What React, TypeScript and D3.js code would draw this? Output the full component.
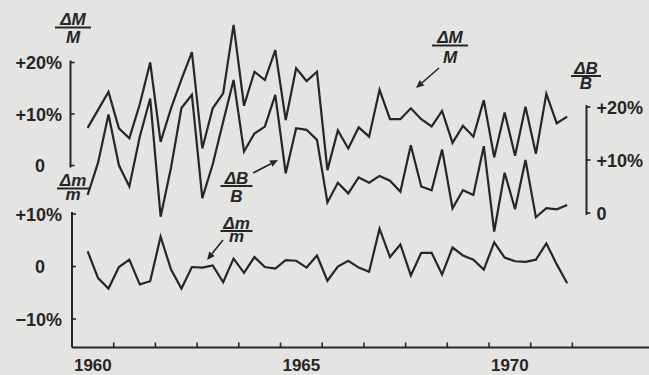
import React, { useEffect, useRef } from 'react';
import * as d3 from 'd3';

// quarterly changes in percent, first point is 1960 Q2
const firstYear = 1960
const firstQuarter = 1

// ΔM/M
const moneyChange = [7.3, 10.8, 14.3, 7.2, 5.3, 11.9, 20.0, 4.6, 11.1, 16.7, 22.0, 3.3,
  11.1, 14.0, 27.3, 11.6, 18.2, 16.6, 22.4, 8.8, 18.9, 16.4, 18.2, -0.9,
  6.8, 3.3, 7.4, 5.6, 14.7, 9.0, 9.0, 11.1, 9.0, 7.6, 10.6, 4.4,
  7.7, 5.6, 12.7, 1.6, 10.3, 1.9, 11.4, 2.3, 13.9, 8.2, 9.5]

// ΔB/B
const baseChange = [3.4, 9.5, 18.6, 9.0, 5.0, 14.4, 21.6, -0.7, 8.6, 19.8, 22.3, 2.8,
  9.2, 17.2, 25.1, 11.6, 15.0, 16.3, 22.3, 7.5, 16.0, 15.7, 13.8, 2.0,
  5.7, 3.7, 6.7, 5.7, 7.0, 6.1, 4.0, 12.8, 5.0, 4.3, 12.0, 0.9,
  4.3, 3.4, 12.6, -3.5, 7.6, 0.7, 10.0, -0.8, 0.9, 0.7, 1.5]

// Δm/m
const multChange = [2.9, -2.2, -4.2, -0.1, 1.3, -3.4, -2.8, 5.7, -0.6, -4.2, -0.1, -0.2,
  0.2, -3.0, 1.5, -1.2, 1.8, -0.1, -0.4, 1.2, 1.1, -0.2, 2.1, -2.7,
  0.0, 1.1, -0.2, -1.0, 7.2, 1.8, 4.2, -1.7, 2.6, 2.6, -1.5, 3.6,
  2.1, 1.3, -0.6, 4.6, 1.7, 1.0, 0.9, 1.3, 4.4, 0.4, -3.2]

const tickYears = [1961, 1962, 1963, 1964, 1965, 1966, 1967, 1968, 1969, 1970, 1971, 1972]
const yearLabels = [1960, 1965, 1970]
const upperTicks = [0, 10, 20]
const upperTickLabels = ['0', '+10%', '+20%']
const lowerTicks = [-10, 0, 10]
const lowerTickLabels = ['\u221210%', '0', '+10%']

const ink = '#262626'
const paper = '#e4e4e2'
const font = "'Liberation Sans', Arial, sans-serif"

const App = () => {
  const chart = useRef<SVGSVGElement>(null)

  useEffect(() => {
    const svg = d3.select(chart.current)
    svg.selectAll('*').remove()

    const x = d3.scaleLinear().domain([1960, 1974]).range([72, 72 + 41.7 * 14])
    const yM = d3.scaleLinear().domain([0, 20]).range([165.5, 62.5])
    const yB = d3.scaleLinear().domain([0, 20]).range([213, 107])
    const ym = d3.scaleLinear().domain([-10, 10]).range([319, 214])
    const when = (i: number) => firstYear + (firstQuarter + i + 0.5) / 4

    svg.append('rect').attr('width', 649).attr('height', 375).attr('fill', paper)

    // series
    const series: [number[], d3.ScaleLinear<number, number>][] = [
      [moneyChange, yM], [baseChange, yB], [multChange, ym]
    ]
    series.forEach(([values, y]) => {
      const line = d3.line<number>().x((d, i) => x(when(i))).y(d => y(d))
      svg.append('path')
        .datum(values)
        .attr('d', line)
        .attr('fill', 'none')
        .attr('stroke', ink)
        .attr('stroke-width', 2.2)
        .attr('stroke-linejoin', 'miter')
    })

    // x axis
    const base = 347.5
    svg.append('line').attr('x1', x(1960)).attr('x2', 649).attr('y1', base).attr('y2', base)
      .attr('stroke', ink).attr('stroke-width', 2)
    svg.append('g').selectAll('line').data(tickYears).join('line')
      .attr('x1', d => x(d)).attr('x2', d => x(d))
      .attr('y1', base).attr('y2', base - 5)
      .attr('stroke', ink).attr('stroke-width', 1.6)
    svg.append('g').selectAll('text').data(yearLabels).join('text')
      .attr('x', d => x(d + 0.5)).attr('y', 370.5)
      .attr('text-anchor', 'middle')
      .attr('font-family', font).attr('font-weight', 'bold').attr('font-size', 17)
      .attr('fill', ink)
      .text(d => d)

    // vertical axes, ticks point right
    const vAxis = (ax: number, y: d3.ScaleLinear<number, number>, ticks: number[], labels: string[], side: 'left' | 'right') => {
      const [lo, hi] = d3.extent(ticks) as [number, number]
      const y2 = side === 'left' && y === ym ? base : y(lo) + 2
      svg.append('line').attr('x1', ax).attr('x2', ax).attr('y1', y(hi) - 2).attr('y2', y2)
        .attr('stroke', ink).attr('stroke-width', 2)
      svg.append('g').selectAll('line').data(ticks).join('line')
        .attr('x1', ax).attr('x2', ax + 4)
        .attr('y1', d => y(d)).attr('y2', d => y(d))
        .attr('stroke', ink).attr('stroke-width', 1.6)
      svg.append('g').selectAll('text').data(ticks).join('text')
        .attr('x', (d, i) => side === 'right' ? ax + 10 : (labels[i] === '0' ? 45 : 62))
        .attr('y', d => y(d) + 6.5)
        .attr('text-anchor', side === 'right' ? 'start' : 'end')
        .attr('font-family', font).attr('font-weight', 'bold').attr('font-size', 18)
        .attr('fill', ink)
        .text((d, i) => labels[i])
    }
    vAxis(70.5, yM, upperTicks, upperTickLabels, 'left')
    vAxis(72, ym, lowerTicks, lowerTickLabels, 'left')
    vAxis(586.5, yB, upperTicks, upperTickLabels, 'right')

    // fraction labels
    const fraction = (cx: number, top: number, num: string, den: string, bar: number, denBase: number) => {
      const g = svg.append('g')
        .attr('font-family', font).attr('font-weight', 'bold').attr('font-style', 'italic')
        .attr('font-size', 17).attr('fill', ink).attr('text-anchor', 'middle')
      g.append('text').attr('x', cx).attr('y', top).text(num)
      g.append('line').attr('x1', cx - bar / 2).attr('x2', cx + bar / 2)
        .attr('y1', top + 2.5).attr('y2', top + 2.5)
        .attr('stroke', ink).attr('stroke-width', 2)
      g.append('text').attr('x', cx).attr('y', denBase).text(den)
    }
    fraction(73, 25, '\u0394M', 'M', 36, 43)
    fraction(73, 186, '\u0394m', 'm', 32, 200)
    fraction(236.5, 183.5, '\u0394B', 'B', 32, 201.5)
    fraction(236.5, 228.5, '\u0394m', 'm', 32, 241.5)
    fraction(450, 43, '\u0394M', 'M', 36, 63)
    fraction(586, 73.5, '\u0394B', 'B', 30, 88.5)

    // pointers
    const arrow = (x1: number, y1: number, x2: number, y2: number) => {
      const a = Math.atan2(y2 - y1, x2 - x1)
      const len = 8, half = 3.5
      const bx = x2 - len * Math.cos(a), by = y2 - len * Math.sin(a)
      svg.append('line').attr('x1', x1).attr('y1', y1).attr('x2', bx).attr('y2', by)
        .attr('stroke', ink).attr('stroke-width', 1.6)
      svg.append('path')
        .attr('d', `M${x2},${y2}L${bx - half * Math.sin(a)},${by + half * Math.cos(a)}L${bx + half * Math.sin(a)},${by - half * Math.cos(a)}Z`)
        .attr('fill', ink)
    }
    arrow(253, 173, 278, 160)
    arrow(223, 240, 207, 260)
    arrow(439, 68, 416, 88)
  }, [])

  return (
    <svg ref={chart} width={649} height={375} style={{ position: 'absolute', left: 0, top: 0 }}></svg>
  )
}

export default App;
